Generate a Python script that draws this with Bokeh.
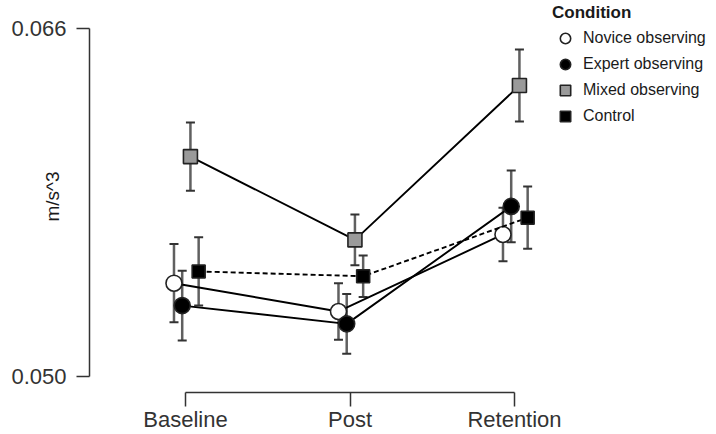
from bokeh.plotting import figure
from bokeh.models import (ColumnDataSource, Range1d, FixedTicker, PrintfTickFormatter,
                          Whisker, TeeHead, Legend, LegendItem)
from bokeh.transform import dodge
from bokeh.embed import file_html
from bokeh.resources import INLINE

# ---------------- data ----------------
categories = ["Baseline", "Post", "Retention"]
y_ticks = [0.050, 0.066]
y_label = "m/s^3"
legend_title = "Condition"
series_names = ["Novice observing", "Expert observing", "Mixed observing", "Control"]

novice_mean = [0.05429, 0.05299, 0.05653]
novice_se = [0.00180, 0.00130, 0.00123]
expert_mean = [0.05326, 0.05242, 0.05782]
expert_se = [0.00160, 0.00137, 0.00165]
mixed_mean = [0.06011, 0.05628, 0.06338]
mixed_se = [0.00157, 0.00117, 0.00166]
control_mean = [0.05483, 0.05461, 0.05730]
control_se = [0.00157, 0.00095, 0.00143]

FONT = "Liberation Sans"
AX = "#333333"

x_pos = list(range(1, len(categories) + 1))

p = figure(width=716, height=434, output_backend="svg", toolbar_location=None,
           x_range=Range1d(0.416413, 4.227964), y_range=Range1d(0.0492644, 0.0672874),
           min_border_left=89, min_border_right=0, min_border_top=0, min_border_bottom=42)
p.outline_line_color = None
p.grid.visible = False
p.background_fill_color = "white"
p.border_fill_color = "white"

# y axis
p.yaxis.ticker = FixedTicker(ticks=y_ticks)
p.yaxis.formatter = PrintfTickFormatter(format="%.3f")
p.yaxis.bounds = (y_ticks[0], y_ticks[-1])
p.yaxis.minor_tick_line_color = None
p.yaxis.major_tick_in = 0
p.yaxis.major_tick_out = 13
p.yaxis.major_label_standoff = 10
p.yaxis.major_label_text_font = FONT
p.yaxis.major_label_text_font_size = "22px"
p.yaxis.major_label_text_color = AX
p.yaxis.axis_line_color = AX
p.yaxis.axis_line_width = 1.5
p.yaxis.major_tick_line_color = AX
p.yaxis.major_tick_line_width = 1.5
p.yaxis.axis_label = y_label
p.yaxis.axis_label_standoff = -55
p.yaxis.axis_label_text_font = FONT
p.yaxis.axis_label_text_font_style = "normal"
p.yaxis.axis_label_text_font_size = "19px"
p.yaxis.axis_label_text_color = "#1a1a1a"

# x axis
p.xaxis.ticker = FixedTicker(ticks=x_pos)
p.xaxis.major_label_overrides = {x: c for x, c in zip(x_pos, categories)}
p.xaxis.bounds = (x_pos[0], x_pos[-1])
p.xaxis.minor_tick_line_color = None
p.xaxis.major_tick_in = 0
p.xaxis.major_tick_out = 14
p.xaxis.major_label_standoff = 0
p.xaxis.major_label_text_font = FONT
p.xaxis.major_label_text_font_size = "22px"
p.xaxis.major_label_text_color = AX
p.xaxis.axis_line_color = AX
p.xaxis.axis_line_width = 1.5
p.xaxis.major_tick_line_color = AX
p.xaxis.major_tick_line_width = 1.5

# series styling
styles = [
    dict(mean=novice_mean, se=novice_se, off=-0.07, marker="circle", size=16, fill="white", dash="solid"),
    dict(mean=expert_mean, se=expert_se, off=-0.02, marker="circle", size=16, fill="black", dash="solid"),
    dict(mean=mixed_mean, se=mixed_se, off=0.03, marker="square", size=14, fill="#9a9a9a", dash="solid"),
    dict(mean=control_mean, se=control_se, off=0.08, marker="square", size=13, fill="black", dash="5 3"),
]

items = []
for name, st in zip(series_names, styles):
    src = ColumnDataSource(dict(
        x=x_pos,
        mean=st["mean"],
        upper=[m + s for m, s in zip(st["mean"], st["se"])],
        lower=[m - s for m, s in zip(st["mean"], st["se"])],
    ))
    w = Whisker(source=src, base=dodge("x", st["off"]), upper="upper", lower="lower",
                line_color="#606060", line_width=2.5, level="underlay",
                upper_head=TeeHead(size=9, line_color="#333333", line_width=2),
                lower_head=TeeHead(size=9, line_color="#333333", line_width=2))
    p.add_layout(w)
    p.line(x=dodge("x", st["off"]), y="mean", source=src, line_color="black",
           line_width=1.9, line_dash=st["dash"])
    r = p.scatter(x=dodge("x", st["off"]), y="mean", source=src, marker=st["marker"],
                  size=st["size"], fill_color=st["fill"], line_color="#222222", line_width=1.6)
    items.append(LegendItem(label=name, renderers=[r]))

legend = Legend(items=items, location=(463, 263), title=legend_title,
                title_text_font=FONT, title_text_font_style="bold",
                title_text_font_size="17px", title_text_color="#1a1a1a",
                label_text_font=FONT, label_text_font_size="16px", label_text_color="#1a1a1a",
                glyph_width=26, glyph_height=26, spacing=0, padding=0, margin=0,
                label_standoff=5, title_standoff=2,
                border_line_color=None, background_fill_alpha=0)
p.add_layout(legend)

open("out.html", "w").write(file_html(p, INLINE))
